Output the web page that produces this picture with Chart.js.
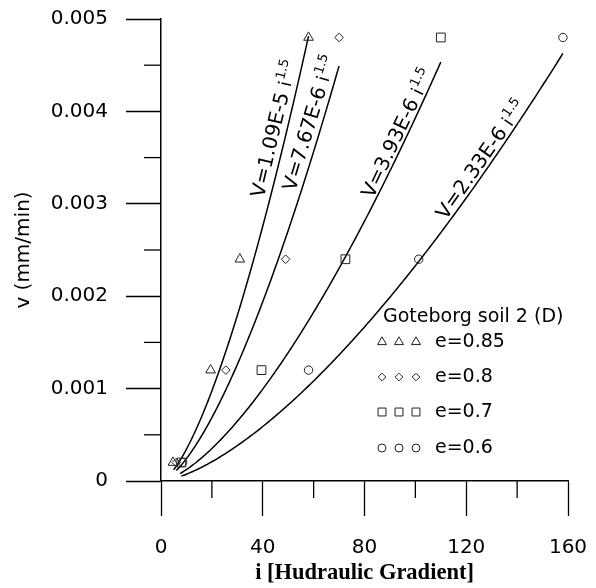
<!DOCTYPE html>
<html><head><meta charset="utf-8">
<script src="https://cdn.jsdelivr.net/npm/chart.js@4.4.0/dist/chart.umd.min.js"></script>
<style>html,body{margin:0;padding:0;background:#fff;}canvas{display:block;}</style>
</head><body>
<canvas id="c" width="596" height="588"></canvas>
<script>
// ---- data ----
const seriesNames = ['e=0.85', 'e=0.8', 'e=0.7', 'e=0.6'];
const vValues = [0.0002, 0.0012, 0.0024, 0.0048];
const i085 = [4.7, 19.5, 31, 58];
const i080 = [6, 25.5, 49, 70];
const i070 = [8, 39.5, 72.5, 110];
const i060 = [8.5, 58, 101.3, 158];
const fitK = [1.09e-5, 7.67e-6, 3.93e-6, 2.33e-6];
const fitExp = 1.5;
const fitNames = ['V=1.09E-5', 'V=7.67E-6', 'V=3.93E-6', 'V=2.33E-6'];
const fitStart = [5, 6, 7.5, 8];
const fitEnd = [58, 70, 110, 158];
const xMajor = [0, 40, 80, 120, 160];
const xMinor = [20, 60, 100, 140];
const yMajor = [0, 0.001, 0.002, 0.003, 0.004, 0.005];
const yMinor = [0.0005, 0.0015, 0.0025, 0.0035, 0.0045];
const legendTitle = 'Goteborg soil 2 (D)';
const xTitle = 'i [Hudraulic Gradient]';
const yTitle = 'v (mm/min)';

// ---- styles ----
const FONT = '"DejaVu Sans", sans-serif';
const markerStyles = [
  {style: 'triangle', r: 5.6, lr: 5.2},
  {style: 'rectRot', r: 4.3, lr: 3.8},
  {style: 'rect', r: 6.2, lr: 5.6},
  {style: 'circle', r: 4.2, lr: 4.0}
];
const labelPlace = [
  {from: 42.7, to: 55.6, off: 6},
  {from: 54.8, to: 70, off: 5.5},
  {from: 84.2, to: 108.6, off: 2.5},
  {from: 113, to: 140, off: 3}
];

const seriesI = [i085, i080, i070, i060];
const datasets = [];
seriesI.forEach((arr, s) => {
  datasets.push({
    type: 'scatter',
    label: seriesNames[s],
    data: arr.map((x, j) => ({x: x, y: vValues[j]})),
    pointStyle: markerStyles[s].style,
    pointRadius: markerStyles[s].r,
    pointBorderColor: '#222',
    pointBackgroundColor: 'rgba(0,0,0,0)',
    pointBorderWidth: 1,
    showLine: false
  });
});
fitK.forEach((k, s) => {
  const pts = [];
  for (let x = fitStart[s]; x <= fitEnd[s] + 1e-9; x += 0.5) pts.push({x: x, y: k * Math.pow(x, fitExp)});
  datasets.push({
    type: 'line',
    label: fitNames[s],
    data: pts,
    borderColor: '#000',
    borderWidth: 1.5,
    pointRadius: 0,
    fill: false,
    tension: 0
  });
});

function drawMarker(ctx, style, x, y, r) {
  ctx.beginPath();
  if (style === 'triangle') {
    for (let a = 0; a < 3; a++) {
      const ang = -Math.PI / 2 + a * 2 * Math.PI / 3;
      const px = x + Math.cos(ang) * r, py = y + Math.sin(ang) * r;
      if (a === 0) ctx.moveTo(px, py); else ctx.lineTo(px, py);
    }
    ctx.closePath();
  } else if (style === 'rectRot') {
    ctx.moveTo(x, y - r); ctx.lineTo(x + r, y); ctx.lineTo(x, y + r); ctx.lineTo(x - r, y); ctx.closePath();
  } else if (style === 'rect') {
    const h = r * Math.SQRT1_2;
    ctx.rect(x - h, y - h, 2 * h, 2 * h);
  } else {
    ctx.arc(x, y, r, 0, Math.PI * 2);
  }
  ctx.stroke();
}

const overlay = {
  id: 'overlay',
  afterDatasetsDraw(chart) {
    const ctx = chart.ctx, xs = chart.scales.x, ys = chart.scales.y;
    ctx.save();
    // minor ticks
    ctx.strokeStyle = '#000'; ctx.lineWidth = 1.3;
    const bottom = ys.getPixelForValue(0), left = xs.getPixelForValue(0);
    xMinor.forEach(v => { const px = xs.getPixelForValue(v); ctx.beginPath(); ctx.moveTo(px, bottom); ctx.lineTo(px, bottom + 17); ctx.stroke(); });
    yMinor.forEach(v => { const py = ys.getPixelForValue(v); ctx.beginPath(); ctx.moveTo(left, py); ctx.lineTo(left - 17, py); ctx.stroke(); });
    // fit labels
    ctx.fillStyle = '#000';
    fitK.forEach((k, s) => {
      const L = labelPlace[s];
      const x0 = xs.getPixelForValue(L.from), y0 = ys.getPixelForValue(k * Math.pow(L.from, fitExp));
      const x1 = xs.getPixelForValue(L.to), y1 = ys.getPixelForValue(k * Math.pow(L.to, fitExp));
      const a = Math.atan2(y1 - y0, x1 - x0);
      const ux = Math.sin(a), uy = -Math.cos(a);
      ctx.save();
      ctx.translate(x0 + ux * L.off, y0 + uy * L.off);
      ctx.rotate(a);
      ctx.textBaseline = 'alphabetic'; ctx.textAlign = 'left';
      ctx.font = '20px ' + FONT;
      const t = fitNames[s] + ' ';
      ctx.fillText(t, 0, 0);
      let w = ctx.measureText(t).width;
      ctx.font = '18px ' + FONT;
      ctx.fillText('i', w, 0);
      w += ctx.measureText('i').width + 1;
      ctx.font = '13px ' + FONT;
      ctx.fillText(String(fitExp), w, -8);
      ctx.restore();
    });
    // legend
    ctx.font = '19px ' + FONT;
    ctx.textBaseline = 'middle'; ctx.textAlign = 'left';
    ctx.fillText(legendTitle, 383, 317);
    const rowY = [342, 377, 412, 448];
    const mx = [382, 399, 416];
    ctx.strokeStyle = '#222'; ctx.lineWidth = 1;
    seriesNames.forEach((n, s) => {
      mx.forEach(x => drawMarker(ctx, markerStyles[s].style, x, rowY[s], markerStyles[s].lr));
      ctx.fillText(n, 435, rowY[s]);
    });
    ctx.restore();
  }
};

new Chart(document.getElementById('c'), {
  data: {datasets},
  options: {
    responsive: false,
    animation: false,
    devicePixelRatio: 1,
    layout: {padding: {left: 0, right: 28, top: 19, bottom: 0}},
    plugins: {legend: {display: false}, tooltip: {enabled: false}},
    scales: {
      x: {
        type: 'linear', min: 0, max: 160,
        afterFit(s) { s.height = 107; s.paddingLeft = 0; s.paddingRight = 0; },
        afterBuildTicks(s) { s.ticks = xMajor.map(v => ({value: v})); },
        ticks: {padding: 20, color: '#000', font: {family: FONT, size: 20}, callback: v => String(v)},
        grid: {drawOnChartArea: false, drawTicks: true, tickLength: 35, tickColor: '#000', tickWidth: 1.3},
        border: {display: true, color: '#000', width: 1.5},
        title: {display: true, text: xTitle, color: '#000', font: {family: '"Liberation Serif", serif', size: 22.5, weight: 'bold'}, padding: {top: 0, bottom: 1.5}}
      },
      y: {
        type: 'linear', min: 0, max: 0.005,
        afterFit(s) { s.width = 161; s.paddingTop = 0; s.paddingBottom = 0; },
        afterBuildTicks(s) { s.ticks = yMajor.map(v => ({value: v})); },
        ticks: {padding: 18, color: '#000', font: {family: FONT, size: 20}, callback: v => v === 0 ? '0' : v.toFixed(3)},
        grid: {drawOnChartArea: false, drawTicks: true, tickLength: 35, tickColor: '#000', tickWidth: 1.3},
        border: {display: true, color: '#000', width: 1.5},
        title: {display: true, text: yTitle, color: '#000', font: {family: FONT, size: 20}, padding: {top: 12, bottom: 0}}
      }
    }
  },
  plugins: [overlay]
});
</script>
</body></html>
